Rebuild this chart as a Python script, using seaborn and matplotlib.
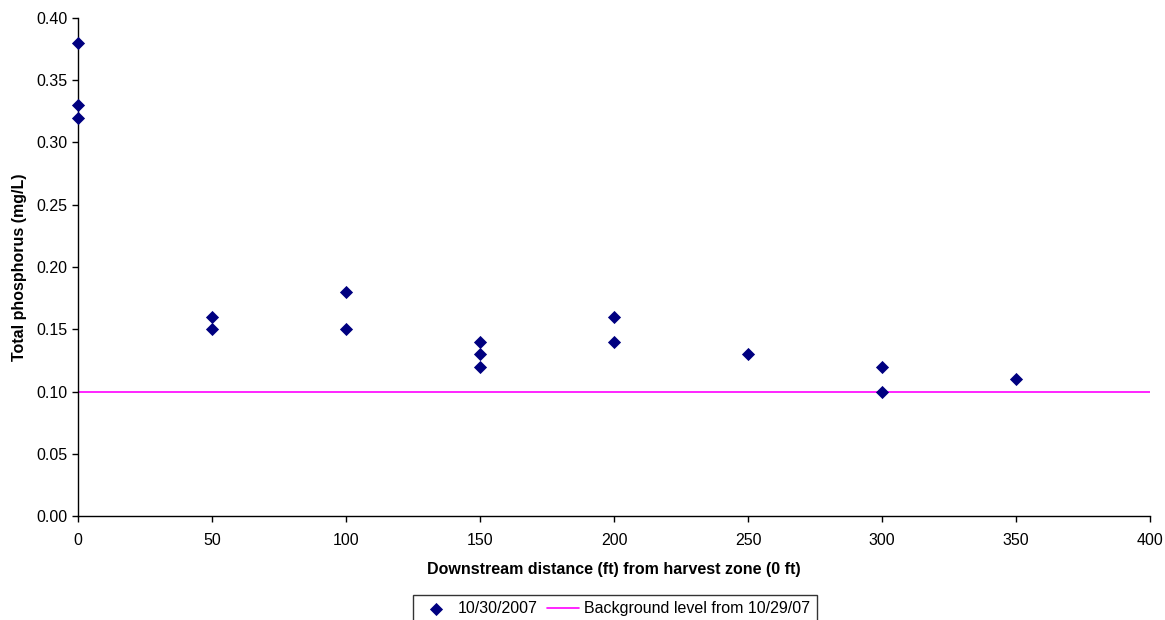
import pandas as pd
import seaborn as sns
import matplotlib.pyplot as plt

distancia = [0, 0, 0, 50, 50, 100, 100, 150, 150, 150, 200, 200, 250, 300, 300, 350]
fosforo = [0.38, 0.33, 0.32, 0.16, 0.15, 0.18, 0.15, 0.14, 0.13, 0.12, 0.16, 0.14, 0.13, 0.12, 0.10, 0.11]
nivel_fundo = 0.10

df = pd.DataFrame({"Distancia": distancia, "Fosforo": fosforo})

sns.set_style("ticks")
plt.rcParams["font.family"] = ["Liberation Sans", "DejaVu Sans"]
plt.rcParams["text.color"] = "black"
plt.rcParams["axes.labelcolor"] = "black"

fig = plt.figure(figsize=(11.65, 6.2), dpi=100)
ax = fig.add_axes([78 / 1165, 1 - 516 / 620, (1150 - 78) / 1165, (516 - 18) / 620])

sns.scatterplot(data=df, x="Distancia", y="Fosforo", marker="D", color="#000080",
                s=45, edgecolor="#000080", linewidth=0, ax=ax, label="10/30/2007",
                zorder=3, clip_on=False)
ax.axhline(nivel_fundo, color="#FF00FF", linewidth=1.2, label="Background level from 10/29/07")

ax.set_xlim(0, 400)
ax.set_ylim(0, 0.40)
ax.set_xticks(range(0, 401, 50))
ax.set_yticks([i * 0.05 for i in range(9)])
ax.set_yticklabels([f"{i * 0.05:.2f}" for i in range(9)])
ax.tick_params(labelsize=11.5, length=4, width=1, colors="black")
ax.tick_params(axis="x", pad=8)
sns.despine(ax=ax)
for s in ["left", "bottom"]:
    ax.spines[s].set_color("black")
    ax.spines[s].set_linewidth(1)

ax.set_xlabel("Downstream distance (ft) from harvest zone (0 ft)", fontsize=11.5, fontweight="bold", labelpad=10)
ax.set_ylabel("Total phosphorus (mg/L)", fontsize=11.5, fontweight="bold", labelpad=7)

leg = ax.legend(loc="upper center", bbox_to_anchor=(615 / 1165, 1 - 595 / 620), bbox_transform=fig.transFigure,
                ncol=2, frameon=True, fancybox=False, fontsize=11.5, handlelength=2.0,
                columnspacing=0.6, handletextpad=0.35, borderpad=0.4, borderaxespad=0)
leg.get_frame().set_edgecolor("black")
leg.get_frame().set_linewidth(1)

fig.savefig("out.png", dpi=100)
